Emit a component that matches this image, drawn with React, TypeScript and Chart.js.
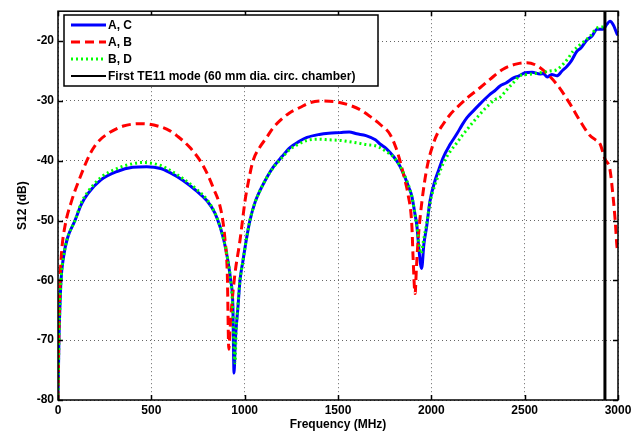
import React, { useEffect, useRef } from "react";
import { Chart, registerables } from "chart.js";
Chart.register(...registerables);

// ---- Data ----
const X_TICKS = [0, 500, 1000, 1500, 2000, 2500, 3000];
const Y_TICKS = [-80, -70, -60, -50, -40, -30, -20];
const TE11_FREQ = 2930;

const AC_FREQ = [0, 5, 12, 16, 30, 50, 91, 125, 160, 230, 316, 400, 475, 550, 600, 670, 740, 798, 840, 868, 890, 910, 925, 937, 943, 950, 964, 975, 991, 1010, 1028, 1055, 1082, 1115, 1152, 1200, 1243, 1290, 1334, 1400, 1450, 1511, 1560, 1600, 1650, 1700, 1725, 1760, 1795, 1830, 1859, 1880, 1896, 1910, 1923, 1934, 1948, 1960, 1975, 1993, 2020, 2040, 2063, 2100, 2137, 2165, 2191, 2230, 2261, 2290, 2314, 2340, 2368, 2400, 2438, 2470, 2502, 2540, 2582, 2600, 2620, 2645, 2673, 2700, 2727, 2750, 2780, 2800, 2834, 2860, 2888, 2920, 2940, 2957, 2975, 2995, 3000];
const AC_DB = [-80, -70, -63, -60, -56, -53, -50, -47.3, -45.5, -43.2, -41.8, -41.1, -41, -41.3, -42, -43.3, -45, -46.7, -48.7, -51, -53.5, -56.7, -60, -64.5, -75.5, -70, -64.5, -60, -56.7, -53, -50, -47, -45, -43, -41.1, -39.3, -37.8, -36.8, -36.1, -35.6, -35.4, -35.3, -35.2, -35.5, -35.8, -36.5, -37.2, -38, -39.2, -40.8, -42.8, -44.5, -46, -48.5, -51, -55, -58, -54, -51, -46.7, -43.3, -41.5, -39.5, -37.3, -35.5, -34, -32.8, -31.5, -30.5, -29.6, -28.9, -28.3, -27.5, -27, -26.2, -25.8, -25.3, -25.2, -25.5, -25.4, -26, -25.6, -25.8, -25, -24.2, -23.3, -21.7, -21.2, -19.8, -19.2, -18, -18, -17.2, -16.7, -17.3, -18.8, -19];

const AB_FREQ = [0, 4, 8, 11, 20, 37, 73, 118, 171, 210, 261, 350, 455, 546, 600, 636, 707, 777, 830, 877, 895, 907, 915, 922, 930, 948, 975, 1002, 1020, 1045, 1080, 1118, 1150, 1189, 1240, 1296, 1350, 1420, 1480, 1550, 1620, 1680, 1725, 1779, 1810, 1832, 1855, 1875, 1896, 1902, 1913, 1920, 1929, 1950, 1977, 2009, 2035, 2063, 2100, 2137, 2200, 2261, 2314, 2384, 2459, 2512, 2571, 2625, 2679, 2743, 2796, 2850, 2880, 2904, 2930, 2957, 2973, 2985, 2995, 3000];
const AB_DB = [-80, -70, -64, -60, -55, -51, -46.7, -42.8, -38.9, -37, -35.6, -34.2, -33.8, -34.3, -35, -35.8, -37.8, -40.8, -44.4, -48.9, -53.3, -58.9, -71.5, -68, -64.5, -58.9, -53.3, -46.7, -43.5, -40, -37.8, -36.1, -34.6, -33.3, -32, -31.1, -30.3, -30, -30.1, -30.6, -31.5, -32.8, -33.9, -35.6, -37.8, -40, -42.8, -45.6, -51, -56, -62.2, -58, -53.3, -46.7, -41.1, -37.3, -35.3, -33.9, -32.3, -31.1, -29.3, -27.8, -26.4, -24.7, -23.8, -23.6, -24.2, -25.6, -27.5, -30.5, -33.3, -35.8, -36.5, -37.2, -39.7, -41.5, -45.8, -50, -54.5, -55];

const BD_FREQ = [0, 5, 12, 16, 30, 50, 91, 125, 160, 230, 316, 400, 450, 550, 600, 670, 740, 798, 840, 868, 890, 910, 925, 935, 948, 955, 964, 975, 991, 1010, 1028, 1055, 1082, 1115, 1152, 1200, 1243, 1290, 1334, 1400, 1450, 1511, 1560, 1600, 1650, 1700, 1725, 1760, 1795, 1830, 1859, 1880, 1896, 1910, 1923, 1934, 1945, 1960, 1975, 1993, 2020, 2040, 2063, 2100, 2137, 2165, 2191, 2230, 2261, 2290, 2314, 2340, 2368, 2400, 2438, 2475, 2510, 2540, 2582, 2636, 2670, 2705, 2730, 2759, 2790, 2820, 2850, 2888, 2930];
const BD_DB = [-80, -70, -63, -60, -56, -53, -50, -47, -45.2, -42.8, -41.3, -40.5, -40.3, -40.8, -41.6, -43, -44.7, -46.5, -48.7, -51, -53.5, -56.5, -60, -64, -73.8, -68, -64, -60, -56.7, -53, -50, -47, -45, -43, -41.2, -39.5, -38.1, -37.2, -36.6, -36.4, -36.5, -36.6, -36.8, -37, -37.3, -37.5, -37.8, -38.5, -39.3, -40.8, -42.6, -44.3, -46, -48.5, -51, -54, -55.5, -53, -50.5, -47, -44, -42.3, -40.5, -38.5, -37, -35.8, -34.8, -33.3, -32.2, -31.2, -30.5, -29.8, -29.4, -28.3, -27, -25.8, -25.6, -25.5, -25.3, -25, -24.8, -23.9, -23, -21.7, -20.8, -20, -19.2, -17.8, -17.6];

const LABELS = ["A, C", "A, B", "B, D", "First TE11 mode (60 mm dia. circ. chamber)"];

const toXY = (f: number[], v: number[]) => f.map((x, i) => ({ x, y: v[i] }));

const FONT = "'Liberation Sans', Arial, sans-serif";

const framePlugin = {
  id: "frameLegend",
  afterDraw(chart: any) {
    const ctx = chart.ctx;
    const { left, right, top, bottom } = chart.chartArea;
    const xs = chart.scales.x;
    const ys = chart.scales.y;
    ctx.save();
    ctx.strokeStyle = "#000";
    ctx.lineWidth = 1.5;
    ctx.beginPath();
    X_TICKS.forEach((v) => {
      const px = Math.round(xs.getPixelForValue(v)) + 0.5;
      ctx.moveTo(px, bottom);
      ctx.lineTo(px, bottom - 5);
      ctx.moveTo(px, top);
      ctx.lineTo(px, top + 5);
    });
    Y_TICKS.forEach((v) => {
      const py = Math.round(ys.getPixelForValue(v)) + 0.5;
      ctx.moveTo(left, py);
      ctx.lineTo(left + 5, py);
      ctx.moveTo(right, py);
      ctx.lineTo(right - 5, py);
    });
    ctx.stroke();
    ctx.strokeRect(left, top, right - left, bottom - top);

    // legend
    const bx = 64, by = 15, bw = 314, bh = 71;
    ctx.fillStyle = "#fff";
    ctx.fillRect(bx, by, bw, bh);
    ctx.lineWidth = 1.5;
    ctx.strokeStyle = "#000";
    ctx.strokeRect(bx, by, bw, bh);
    const styles = [
      { c: "#0000ff", w: 3, d: [] as number[] },
      { c: "#ff0000", w: 3, d: [9, 5] },
      { c: "#00ff00", w: 3, d: [2, 3] },
      { c: "#000000", w: 2, d: [] as number[] },
    ];
    ctx.font = `bold 12px ${FONT}`;
    ctx.textBaseline = "middle";
    ctx.textAlign = "left";
    styles.forEach((s, i) => {
      const y = by + 10 + i * 17;
      ctx.beginPath();
      ctx.setLineDash(s.d);
      ctx.strokeStyle = s.c;
      ctx.lineWidth = s.w;
      ctx.moveTo(71, y);
      ctx.lineTo(106, y);
      ctx.stroke();
      ctx.setLineDash([]);
      ctx.fillStyle = "#000";
      ctx.fillText(LABELS[i], 108, y + 1);
    });
    ctx.restore();
  },
};

export default function App() {
  const ref = useRef<HTMLCanvasElement>(null);
  useEffect(() => {
    document.body.style.margin = "0";
    const lineBase = { pointRadius: 0, cubicInterpolationMode: "monotone" as const };
    const chart = new Chart(ref.current!, {
      type: "line",
      data: {
        datasets: [
          { ...lineBase, label: LABELS[0], data: toXY(AC_FREQ, AC_DB), borderColor: "#0000ff", borderWidth: 3, order: 3 },
          { ...lineBase, label: LABELS[1], data: toXY(AB_FREQ, AB_DB), borderColor: "#ff0000", borderWidth: 3, borderDash: [9, 5], order: 2 },
          { ...lineBase, label: LABELS[2], data: toXY(BD_FREQ, BD_DB), borderColor: "#00ff00", borderWidth: 3, borderDash: [2, 3], order: 1 },
          {
            label: LABELS[3],
            data: [
              { x: TE11_FREQ, y: -80 },
              { x: TE11_FREQ, y: -15 },
            ],
            borderColor: "#000000",
            borderWidth: 3,
            pointRadius: 0,
            order: 0,
          },
        ],
      },
      options: {
        animation: false,
        responsive: false,
        layout: { padding: { top: 9, right: 25, left: 0, bottom: 0 } },
        plugins: { legend: { display: false }, tooltip: { enabled: false } },
        scales: {
          x: {
            type: "linear",
            min: 0,
            max: 3000,
            afterBuildTicks: (s: any) => {
              s.ticks = X_TICKS.map((value) => ({ value }));
            },
            afterFit: (s: any) => {
              s.height = 34;
            },
            ticks: {
              color: "#000",
              font: { family: FONT, size: 12, weight: "bold" },
              padding: 3,
              maxRotation: 0,
              callback: (v: any) => String(v),
            },
            grid: { color: "#666", lineWidth: 1, drawTicks: false },
            border: { display: false, dash: [1, 3] },
            title: {
              display: true,
              text: "Frequency (MHz)",
              color: "#000",
              font: { family: FONT, size: 12, weight: "bold" },
              padding: { top: 0, bottom: 2 },
            },
          },
          y: {
            type: "linear",
            min: -80,
            max: -15,
            afterBuildTicks: (s: any) => {
              s.ticks = Y_TICKS.map((value) => ({ value }));
            },
            afterFit: (s: any) => {
              s.width = 58;
            },
            ticks: {
              color: "#000",
              font: { family: FONT, size: 12, weight: "bold" },
              padding: 4,
              callback: (v: any) => String(v),
            },
            grid: { color: "#666", lineWidth: 1, drawTicks: false },
            border: { display: false, dash: [1, 3] },
            title: {
              display: true,
              text: "S12 (dB)",
              color: "#000",
              font: { family: FONT, size: 12, weight: "bold" },
              padding: { top: 15, bottom: 0 },
            },
          },
        },
      },
      plugins: [framePlugin],
    });
    return () => chart.destroy();
  }, []);
  return (
    <div style={{ width: 643, height: 434 }}>
      <canvas ref={ref} width={643} height={434} />
    </div>
  );
}
